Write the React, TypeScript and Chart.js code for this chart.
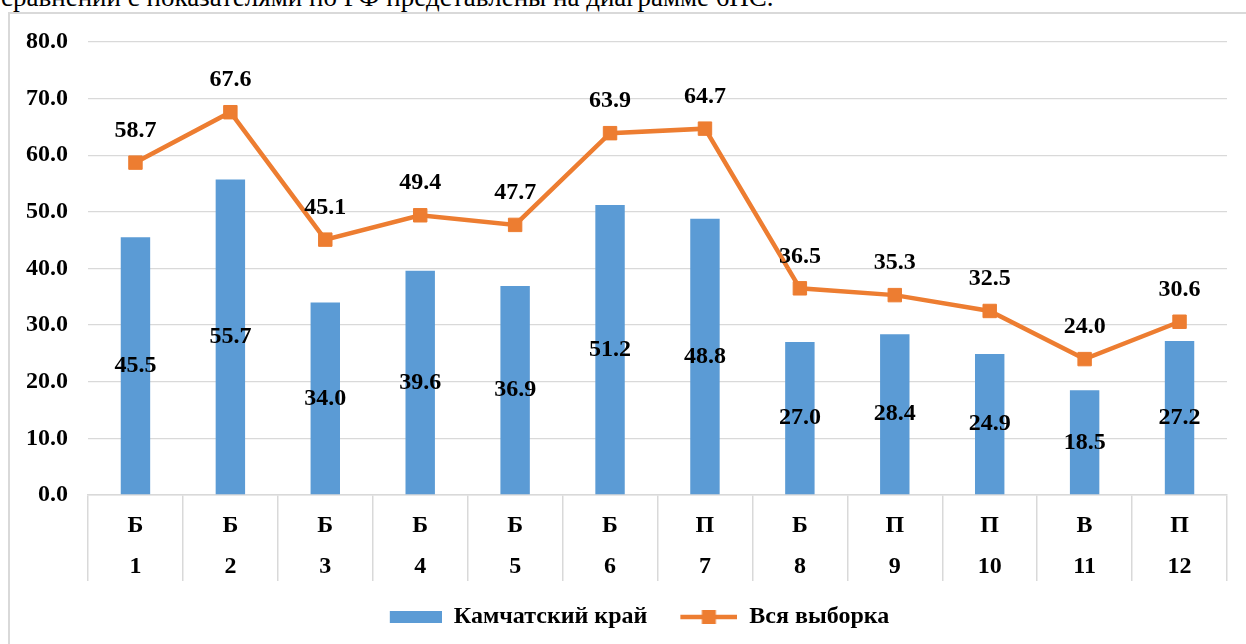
import React, { useEffect, useRef } from "react";
import { Chart, registerables } from "chart.js";

Chart.register(...registerables);

const categoryLetters = ["Б", "Б", "Б", "Б", "Б", "Б", "П", "Б", "П", "П", "В", "П"];
const categoryNumbers = ["1", "2", "3", "4", "5", "6", "7", "8", "9", "10", "11", "12"];
const kamchatka = [45.5, 55.7, 34.0, 39.6, 36.9, 51.2, 48.8, 27.0, 28.4, 24.9, 18.5, 27.2];
const allSample = [58.7, 67.6, 45.1, 49.4, 47.7, 63.9, 64.7, 36.5, 35.3, 32.5, 24.0, 30.6];
const seriesNames = ["Камчатский край", "Вся выборка"];
const yMin = 0;
const yMax = 80;
const yStep = 10;
const topText = "сравнении с показателями по РФ представлены на диаграмме 6НС.";

const BLUE = "#5b9bd5";
const ORANGE = "#ed7d31";
const GRID = "#d9d9d9";
const FONT = "'Liberation Serif', 'Times New Roman', serif";

const valueLabels = {
  id: "valueLabels",
  afterDatasetsDraw(chart: any) {
    const ctx = chart.ctx;
    ctx.save();
    ctx.font = `bold 24px ${FONT}`;
    ctx.fillStyle = "#000";
    ctx.textAlign = "center";
    ctx.textBaseline = "middle";
    chart.data.datasets.forEach((ds: any, i: number) => {
      const meta = chart.getDatasetMeta(i);
      meta.data.forEach((el: any, j: number) => {
        const v = ds.data[j] as number;
        const y = meta.type === "bar" ? (el.y + el.base) / 2 : el.y - 32;
        ctx.fillText(v.toFixed(1), el.x, y);
      });
    });
    ctx.restore();
  },
};

function makeLegendImages(boxW: number) {
  const bar = document.createElement("canvas");
  bar.width = boxW;
  bar.height = 12;
  const bctx = bar.getContext("2d")!;
  bctx.fillStyle = BLUE;
  bctx.fillRect(boxW - 52, 0, 52, 12);

  const line = document.createElement("canvas");
  line.width = boxW;
  line.height = 14;
  const lctx = line.getContext("2d")!;
  lctx.strokeStyle = ORANGE;
  lctx.lineWidth = 4.5;
  lctx.beginPath();
  lctx.moveTo(boxW - 57, 7);
  lctx.lineTo(boxW, 7);
  lctx.stroke();
  lctx.fillStyle = ORANGE;
  const cx = boxW - 57 / 2;
  lctx.fillRect(cx - 7, 0, 14, 14);
  return [bar, line];
}

export default function App() {
  const canvasRef = useRef<HTMLCanvasElement | null>(null);

  useEffect(() => {
    if (!canvasRef.current) return;
    const boxW = 80;
    const [barImg, lineImg] = makeLegendImages(boxW);
    const labels = categoryLetters.map((l, i) => [l, categoryNumbers[i]]);
    const chart = new Chart(canvasRef.current, {
      type: "bar",
      data: {
        labels,
        datasets: [
          {
            type: "bar",
            label: seriesNames[0],
            data: kamchatka,
            backgroundColor: BLUE,
            barPercentage: 0.31,
            categoryPercentage: 1,
          },
          {
            type: "line",
            label: seriesNames[1],
            data: allSample,
            borderColor: ORANGE,
            backgroundColor: ORANGE,
            borderWidth: 4.5,
            pointStyle: "rect",
            pointRadius: 9.5,
            pointBorderWidth: 1,
            pointBackgroundColor: ORANGE,
            pointBorderColor: ORANGE,
            tension: 0,
          },
        ],
      },
      options: {
        responsive: false,
        animation: false,
        layout: { padding: { top: 28, right: 51, bottom: 5, left: 14 } },
        plugins: {
          tooltip: { enabled: false },
          legend: {
            position: "bottom",
            labels: {
              usePointStyle: true,
              pointStyleWidth: boxW,
              padding: 10,
              color: "#000",
              font: { family: FONT, size: 24, weight: "bold" },
              generateLabels: () => [
                { text: seriesNames[0], pointStyle: barImg, fillStyle: BLUE, strokeStyle: BLUE, lineWidth: 0, hidden: false, datasetIndex: 0 },
                { text: seriesNames[1], pointStyle: lineImg, fillStyle: ORANGE, strokeStyle: ORANGE, lineWidth: 0, hidden: false, datasetIndex: 1 },
              ],
            },
          },
        },
        scales: {
          x: {
            offset: true,
            grid: {
              display: true,
              offset: true,
              drawOnChartArea: false,
              drawTicks: true,
              tickLength: 86,
              color: GRID,
              lineWidth: 1.5,
            },
            border: { display: true, color: GRID, width: 1.5 },
            ticks: {
              padding: -76,
              color: "#000",
              maxRotation: 0,
              autoSkip: false,
              font: { family: FONT, size: 24, weight: "bold", lineHeight: 41 / 24 },
            },
            afterFit: (s: any) => {
              s.height = 100;
            },
          },
          y: {
            min: yMin,
            max: yMax,
            grid: {
              color: GRID,
              lineWidth: 1.3,
              drawTicks: true,
              tickLength: 14,
              tickColor: "rgba(0,0,0,0)",
            },
            border: { display: false },
            ticks: {
              stepSize: yStep,
              padding: 6,
              color: "#000",
              font: { family: FONT, size: 24, weight: "bold" },
              callback: (v: any) => Number(v).toFixed(1),
            },
            afterFit: (s: any) => {
              s.width = 64;
            },
          },
        },
      },
      plugins: [valueLabels],
    });
    return () => chart.destroy();
  }, []);

  return (
    <div
      style={{
        position: "fixed",
        left: 0,
        top: 0,
        width: 1246,
        height: 644,
        overflow: "hidden",
        background: "#fff",
      }}
    >
      <div
        style={{
          position: "absolute",
          left: 1,
          top: -16,
          whiteSpace: "nowrap",
          fontFamily: FONT,
          fontSize: 27,
          lineHeight: "27px",
          color: "#000",
        }}
      >
        {topText}
      </div>
      <div
        style={{
          position: "absolute",
          left: 8,
          top: 12,
          width: 1272,
          height: 650,
          border: `2px solid ${GRID}`,
          boxSizing: "border-box",
        }}
      >
        <canvas ref={canvasRef} width={1268} height={630} style={{ display: "block" }} />
      </div>
    </div>
  );
}
